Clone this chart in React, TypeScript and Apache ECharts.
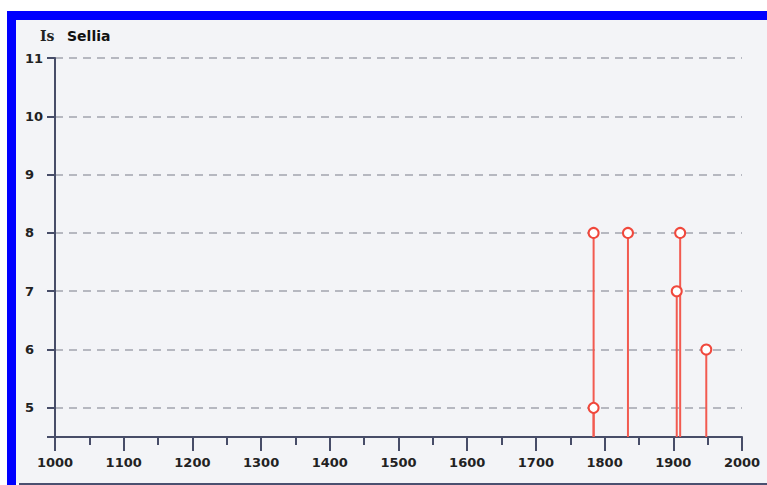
import React, { useEffect, useRef } from "react";
import * as echarts from "echarts";

const years = [1784, 1784, 1834, 1905, 1910, 1948];
const counts = [8, 5, 8, 7, 8, 6];
const xTicks = { min: 1000, max: 2000, interval: 100 };
const yTicks = { min: 4.5, max: 11, step: 1 };
const titlePrefix = "Is";
const titleName = "Sellia";

const AXIS_COLOR = "#474d68";
const RED = "#f0483c";

export default function App() {
  const ref = useRef<HTMLDivElement>(null);

  useEffect(() => {
    if (!ref.current) return;
    const chart = echarts.init(ref.current, null, { renderer: "svg" });
    const points = years.map((y, i) => [y, counts[i]]);
    const baseValue = yTicks.min;
    chart.setOption({
      animation: false,
      backgroundColor: "transparent",
      textStyle: { fontFamily: "DejaVu Sans" },
      title: {
        text: `{a|${titlePrefix}}{b|${titleName}}`,
        left: 35,
        top: 24,
        textStyle: {
          rich: {
            a: { fontFamily: "DejaVu Serif", fontSize: 14, color: "#222", fontWeight: "bold", width: 27 },
            b: { fontFamily: "DejaVu Sans", fontSize: 14, color: "#111", fontWeight: "bold" },
          },
        },
      },
      grid: { left: 55, top: 58, right: 25, bottom: 48, containLabel: false },
      xAxis: {
        type: "value",
        min: xTicks.min,
        max: xTicks.max,
        interval: xTicks.interval,
        axisLine: { show: true, lineStyle: { color: AXIS_COLOR, width: 2 } },
        axisTick: { show: true, length: 14, lineStyle: { color: AXIS_COLOR, width: 2 } },
        minorTick: { show: true, splitNumber: 2, length: 8, lineStyle: { color: AXIS_COLOR, width: 2 } },
        splitLine: { show: false },
        axisLabel: {
          margin: 19,
          fontSize: 13,
          fontWeight: "bold",
          color: "#222",
          fontFamily: "DejaVu Sans",
          formatter: (v: number) => String(v),
        },
      },
      yAxis: {
        type: "value",
        min: yTicks.min,
        max: yTicks.max,
        splitNumber: 7,
        minInterval: yTicks.step,
        maxInterval: yTicks.step,
        axisLine: { show: true, lineStyle: { color: AXIS_COLOR, width: 2 } },
        axisTick: { show: true, length: 8, lineStyle: { color: AXIS_COLOR, width: 2 } },
        splitLine: {
          show: true,
          lineStyle: { color: "#a2a4ae", width: 1.5, type: [8, 6] },
        },
        axisLabel: {
          margin: 30,
          align: "left",
          fontSize: 13,
          fontWeight: "bold",
          color: "#222",
          fontFamily: "DejaVu Sans",
          formatter: (v: number) => (Number.isInteger(v) ? String(v) : ""),
        },
      },
      series: [
        {
          type: "custom",
          data: points,
          z: 2,
          renderItem: (params: any, api: any) => {
            const x = api.value(0);
            const y = api.value(1);
            const p0 = api.coord([x, baseValue]);
            const p1 = api.coord([x, y]);
            return {
              type: "line",
              shape: { x1: p0[0], y1: p0[1], x2: p1[0], y2: p1[1] },
              style: { stroke: "#f25a50", lineWidth: 2 },
            };
          },
        },
        {
          type: "scatter",
          data: points,
          z: 3,
          symbol: "circle",
          symbolSize: 10,
          itemStyle: { color: "#ffffff", borderColor: RED, borderWidth: 2, opacity: 1 },
        },
      ],
    });
    return () => chart.dispose();
  }, []);

  return (
    <div style={{ position: "absolute", left: 0, top: 0, width: 767, height: 485, background: "#fff", overflow: "hidden" }}>
      <div style={{ position: "absolute", left: 7, top: 11, width: 760, height: 474, background: "#0000ff" }} />
      <div style={{ position: "absolute", left: 16, top: 20, width: 751, height: 463, background: "#f3f4f7" }} />
      <div style={{ position: "absolute", left: 16, top: 483, width: 3, height: 2, background: "#fff" }} />
      <div style={{ position: "absolute", left: 19, top: 483, width: 748, height: 2, background: "#4a5070" }} />
      <div ref={ref} style={{ position: "absolute", left: 0, top: 0, width: 767, height: 485 }} />
    </div>
  );
}
